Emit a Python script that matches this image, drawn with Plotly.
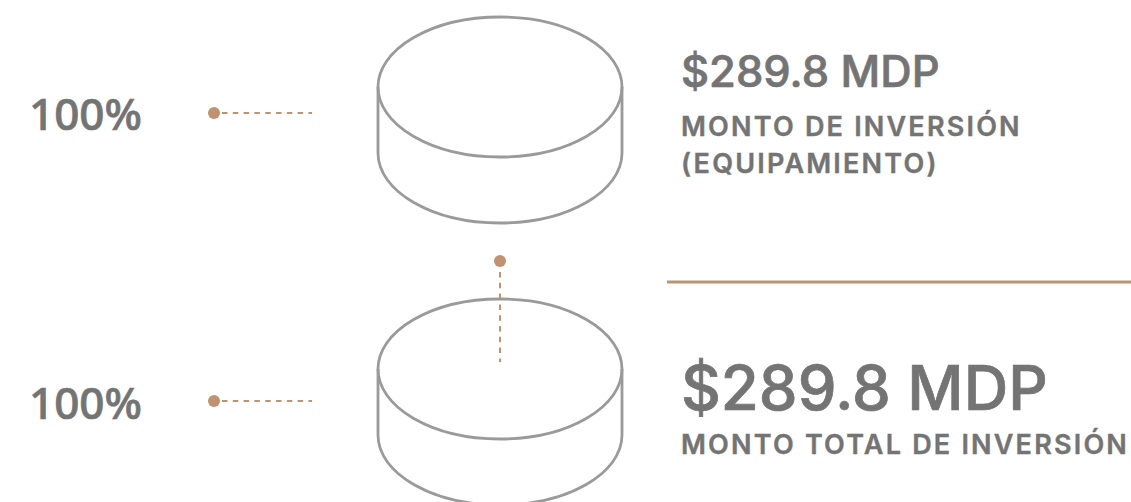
import plotly.graph_objects as go

W, H = 1131, 502
GRAY = "#9A9A9A"
TEXT = "#737473"
BROWN = "#C09270"

# Cylinders
cyl_cx = [500, 500]
cyl_top_cy = [87, 369]
cyl_rx = [122, 122]
cyl_ry = [70, 70]
cyl_depth = [66, 66]

# Connector lines and their dots
dash_x = [[222, 312], [222, 312], [500, 500]]
dash_y = [[113, 113], [401, 401], [272, 362]]
dot_x = [214, 214, 500]
dot_y = [113, 401, 261]
rule_x = [667, 1131]
rule_y = [282, 282]

# Text
pct_labels = ["100%", "100%"]
pct_x = [27.5, 27.5]
pct_y = [113, 402]
text_labels = ["$289.8 MDP", "MONTO DE INVERSIÓN", "(EQUIPAMIENTO)", "$289.8 MDP", "MONTO TOTAL DE INVERSIÓN"]
text_x = [680, 680, 680, 680, 680]
text_y = [71, 126, 163, 387, 444]
text_size = [43.5, 27, 27, 61.7, 27]
text_weight = [500, 600, 600, 500, 600]

K = 0.5523
fig = go.Figure()
shapes = []
for cx, cy, rx, ry, d in zip(cyl_cx, cyl_top_cy, cyl_rx, cyl_ry, cyl_depth):
    line = dict(color=GRAY, width=2.8)
    shapes.append(dict(type="circle", x0=cx - rx, x1=cx + rx, y0=cy - ry, y1=cy + ry, line=line, layer="below"))
    by = cy + d
    path = (f"M {cx-rx} {cy} L {cx-rx} {by} "
            f"C {cx-rx} {by+K*ry} {cx-K*rx} {by+ry} {cx} {by+ry} "
            f"C {cx+K*rx} {by+ry} {cx+rx} {by+K*ry} {cx+rx} {by} L {cx+rx} {cy}")
    shapes.append(dict(type="path", path=path, line=line, layer="below"))

for xs, ys in zip(dash_x, dash_y):
    fig.add_trace(go.Scatter(x=xs, y=ys, mode="lines",
                             line=dict(color=BROWN, width=2, dash="5.5px,5.3px"),
                             hoverinfo="skip", showlegend=False))
fig.add_trace(go.Scatter(x=dot_x, y=dot_y, mode="markers",
                         marker=dict(color=BROWN, size=12, line=dict(width=0)),
                         hoverinfo="skip", showlegend=False))
fig.add_trace(go.Scatter(x=rule_x, y=rule_y, mode="lines", line=dict(color=BROWN, width=3),
                         hoverinfo="skip", showlegend=False))

ann = []
for t, x, y in zip(pct_labels, pct_x, pct_y):
    ann.append(dict(x=x, y=y, text=t, showarrow=False, xanchor="left", yanchor="middle", xref="x", yref="y",
                    align="left", borderpad=0, font=dict(family="Noto Sans", size=44, color=TEXT, weight=500)))
for t, x, y, s, w in zip(text_labels, text_x, text_y, text_size, text_weight):
    ann.append(dict(x=x, y=y, text=t, showarrow=False, xanchor="left", yanchor="middle", xref="x", yref="y",
                    align="left", borderpad=0, font=dict(family="Inter", size=s, color=TEXT, weight=w)))

fig.update_layout(
    width=W, height=H, autosize=False,
    margin=dict(l=0, r=0, t=0, b=0),
    paper_bgcolor="white", plot_bgcolor="white",
    xaxis=dict(range=[0, W], visible=False, fixedrange=True),
    yaxis=dict(range=[H, 0], visible=False, fixedrange=True),
    shapes=shapes, annotations=ann, showlegend=False,
)
post = """
var s = document.createElement('style');
s.textContent = 'body{margin:0;overflow:hidden}'
  + 'text.annotation-text{stroke:#737473;stroke-width:.7px}'
  + 'text.annotation-text[data-unformatted^="MONTO"],text.annotation-text[data-unformatted^="(EQUI"]{letter-spacing:2.2px;stroke-width:.4px}';
document.head.appendChild(s);
"""
fig.write_html("out.html", config=dict(displayModeBar=False), post_script=post)
